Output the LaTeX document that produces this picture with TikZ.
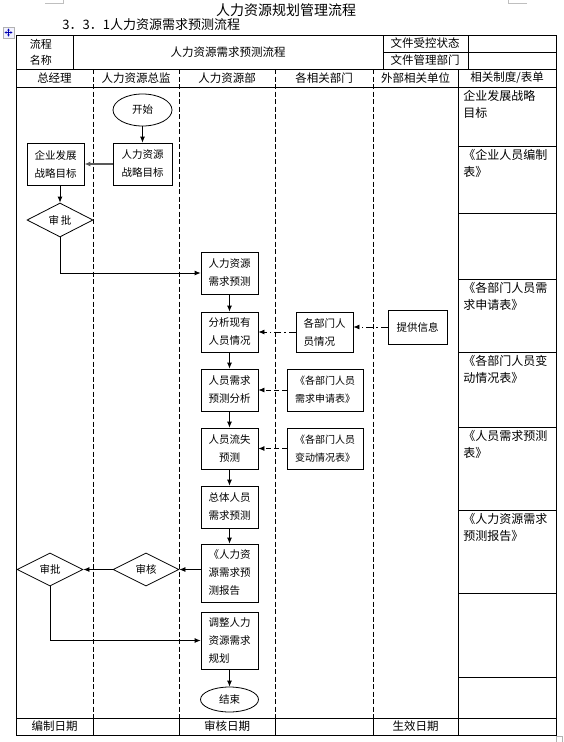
\documentclass[tikz,border=0pt]{standalone}
\usepackage{fontspec}
\setmainfont{Noto Sans CJK SC}
\usetikzlibrary{shapes.geometric,arrows.meta}

\begin{document}
\begin{tikzpicture}[x=1pt,y=-1pt,line width=.8pt,>={Latex[length=6pt,width=5pt]},
    box/.style={draw,minimum width=57pt,minimum height=42pt,inner sep=1pt,align=center,font=\fontsize{10.5}{18}\selectfont},
    formbox/.style={box,minimum width=76pt,font=\fontsize{10}{18}\selectfont},
    term/.style={draw,ellipse,minimum width=59pt,minimum height=32pt,inner sep=0pt,font=\fontsize{10.5}{12}\selectfont},
    check/.style={draw,diamond,aspect=2,minimum width=66pt,minimum height=34pt,inner sep=0pt,font=\fontsize{10.5}{12}\selectfont},
    lane/.style={dash pattern=on 5pt off 2.5pt},
    dashdot/.style={dash pattern=on 7pt off 3pt on 1.5pt off 3pt},
    formarrow/.style={dash pattern=on 5pt off 3pt},
    cell/.style={font=\fontsize{11.5}{12}\selectfont},
    rule/.style={anchor=north west,align=left,inner sep=0pt,font=\fontsize{12}{17}\selectfont}]
    \useasboundingbox (0,0) rectangle (564,742);

    % marks of the page
    \draw [gray!50,line width=.5pt] (45,3) -- (63,3) -- (63,0);
    \draw [gray!50,line width=.5pt] (527,3) -- (508,3) -- (508,0);
    \draw [gray!60,line width=.5pt] (556,736) rectangle (562,742);
    \draw [gray!60,line width=.5pt,fill=blue!5] (3,27) rectangle (14,38);
    \draw [blue!70!black,line width=.6pt,<->,>={Stealth[length=2pt,width=2.5pt]}] (4.5,32.5) -- (12.5,32.5);
    \draw [blue!70!black,line width=.6pt,<->,>={Stealth[length=2pt,width=2.5pt]}] (8.5,28.5) -- (8.5,36.5);

    % titles
    \node (title) [font=\fontsize{14}{16}\selectfont] at (286,10) {人力资源规划管理流程};
    \node (subtitle) [anchor=west,inner sep=0pt,font=\fontsize{13}{14}\selectfont] at (62,25) {3．3．1人力资源需求预测流程};

    % table
    \draw (16,35) rectangle (556,735);
    \draw (16,69) -- (556,69);
    \draw (16,87) -- (556,87);
    \draw (16,718) -- (556,718);
    \draw (383,52) -- (556,52);
    \draw (73,35) -- (73,69);
    \draw (383,35) -- (383,69);
    \draw (468,35) -- (468,69);
    \draw (458,69) -- (458,735);
    \foreach \x in {93,179,275,373}
        \draw [lane] (\x,69) -- (\x,718);
    \foreach \x in {93,179,275,373}
        \draw (\x,718) -- (\x,735);
    \foreach \y in {146,213,279,352,427,510,593,677}
        \draw (458,\y) -- (556,\y);

    \node (name) [cell,align=center,font=\fontsize{11}{16}\selectfont] at (41,52) {流程\\名称};
    \node (procname) [cell] at (228,52) {人力资源需求预测流程};
    \node (status) [cell] at (425,43.5) {文件受控状态};
    \node (owner) [cell] at (425,60.5) {文件管理部门};
    \node (gm) [cell] at (54.5,78) {总经理};
    \node (hrd) [cell] at (136,78) {人力资源总监};
    \node (hr) [cell] at (227,78) {人力资源部};
    \node (dept) [cell] at (324,78) {各相关部门};
    \node (ext) [cell] at (415.5,78) {外部相关单位};
    \node (docs) [cell] at (507,78) {相关制度/表单};
    \node (made) [cell] at (54.5,726.5) {编制日期};
    \node (checked) [cell] at (227,726.5) {审核日期};
    \node (valid) [cell] at (415.5,726.5) {生效日期};

    % forms column
    \node (doc1) [rule] at (463,90) {企业发展战略\\目标};
    \node (doc2) [rule] at (463,149) {《企业人员编制\\表》};
    \node (doc4) [rule] at (463,282) {《各部门人员需\\求申请表》};
    \node (doc5) [rule] at (463,355) {《各部门人员变\\动情况表》};
    \node (doc6) [rule] at (463,430) {《人员需求预测\\表》};
    \node (doc7) [rule] at (463,513) {《人力资源需求\\预测报告》};

    % flow
    \node (start) [term] at (142.5,110) {开始};
    \node (hrgoal) [box,minimum width=59pt] at (142.5,164) {人力资源\\战略目标};
    \node (corpgoal) [box] at (55.5,164) {企业发展\\战略目标};
    \node (appr1) [check] at (60,220) {审\,批};
    \node (demand) [box] at (229.5,273) {人力资源\\需求预测};
    \node (analyze) [box,minimum height=40pt] at (229.5,332) {分析现有\\人员情况};
    \node (deptinfo) [box,minimum height=40pt,align=left] at (324.5,332) {各部门人\\员情况};
    \node (provide) [box,minimum width=59pt,minimum height=34pt] at (417.5,327) {提供信息};
    \node (reqana) [box] at (229.5,390) {人员需求\\预测分析};
    \node (reqform) [formbox] at (325,390) {《各部门人员\\需求申请表》};
    \node (loss) [box,minimum height=41pt] at (229.5,448.5) {人员流失\\预测};
    \node (chgform) [formbox,minimum height=41pt] at (325,448.5) {《各部门人员\\变动情况表》};
    \node (total) [box] at (229.5,507) {总体人员\\需求预测};
    \node (report) [box,minimum height=58pt,align=left] at (229.5,573) {《人力资\\源需求预\\测报告};
    \node (review) [check,minimum height=33pt] at (146,569.5) {审核};
    \node (appr2) [check,minimum height=33pt] at (50,569.5) {审批};
    \node (adjust) [box,minimum height=57pt,align=left] at (229.5,640.5) {调整人力\\资源需求\\规划};
    \node (end) [term,minimum width=58pt,minimum height=25pt] at (229.5,699.5) {结束};

    \draw [->] (start) -- (hrgoal);
    \draw [->,gray!70!black,line width=1.3pt] (hrgoal) -- (corpgoal);
    \draw [->] (appr1.north |- corpgoal.south) -- (appr1.north);
    \draw [->] (appr1.south) |- (demand.west);
    \draw [->] (demand) -- (analyze);
    \draw [->,dashdot] (provide.west) -- (provide.west -| deptinfo.east);
    \draw [->,dashdot] (deptinfo) -- (analyze);
    \draw [->] (analyze) -- (reqana);
    \draw [->,formarrow] (reqform) -- (reqana);
    \draw [->] (reqana) -- (loss);
    \draw [->,formarrow] (chgform) -- (loss);
    \draw [->] (loss) -- (total);
    \draw [->] (total) -- (report);
    \draw [->] (report.west |- review) -- (review.east);
    \draw [->] (review) -- (appr2);
    \draw [->] (appr2.south) |- (adjust.west);
    \draw [->] (adjust) -- (end);
\end{tikzpicture}
\end{document}
